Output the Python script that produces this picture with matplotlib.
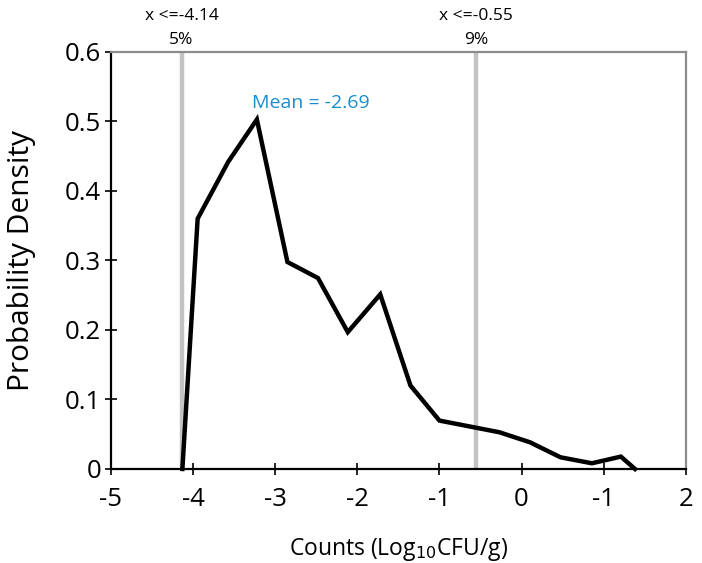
import matplotlib
matplotlib.use("Agg")
import matplotlib.pyplot as plt

plt.rcParams['font.family'] = ['Open Sans', 'DejaVu Sans']

x_vals = [-4.13, -3.944, -3.572, -3.223, -2.851, -2.479, -2.116, -1.721, -1.353, -1.0, -0.27, 0.102, 0.474, 0.856, 1.209, 1.381]
y_vals = [0.0, 0.360, 0.4417, 0.5026, 0.2977, 0.2746, 0.1968, 0.2511, 0.120, 0.0696, 0.0528, 0.0384, 0.0168, 0.0082, 0.0178, 0.0]

x_ticks = [-5, -4, -3, -2, -1, 0, 1, 2]
x_tick_labels = ["-5", "-4", "-3", "-2", "-1", "0", "-1", "2"]
y_ticks = [0, 0.1, 0.2, 0.3, 0.4, 0.5, 0.6]
y_tick_labels = ["0", "0.1", "0.2", "0.3", "0.4", "0.5", "0.6"]

cut_x = [-4.14, -0.55]
cut_top = ["x <=-4.14", "x <=-0.55"]
cut_pct = ["5%", "9%"]
mean_label = "Mean = -2.69"

fig = plt.figure(figsize=(7.02, 5.63), dpi=100)
ax = fig.add_axes([0.158, 0.167, 0.819, 0.741])

for cx, top, pct in zip(cut_x, cut_top, cut_pct):
    ax.axvline(cx, color='#c3c3c3', lw=3.2, zorder=1)
    ax.annotate(top, xy=(cx, 0.6), xycoords='data', xytext=(0, 36), textcoords='offset pixels',
                ha='center', va='center', fontsize=12.5, annotation_clip=False)
    ax.annotate(pct, xy=(cx, 0.6), xycoords='data', xytext=(0, 12), textcoords='offset pixels',
                ha='center', va='center', fontsize=12.5, annotation_clip=False)

ax.plot(x_vals, y_vals, color='black', lw=3.2, solid_joinstyle='miter', zorder=3, clip_on=False)
ax.text(-3.28, 0.527, mean_label, color='#1a8cd0', fontsize=14, va='center', ha='left')

ax.set_xlim(-5, 2)
ax.set_ylim(0, 0.6)
ax.set_xticks(x_ticks)
ax.set_xticklabels(x_tick_labels, fontsize=18.5)
ax.set_yticks(y_ticks)
ax.set_yticklabels(y_tick_labels, fontsize=18.5)
ax.tick_params(direction='inout', length=8, width=1.2)
ax.tick_params(axis='x', pad=9)
ax.tick_params(axis='y', pad=3)

for s in ['left', 'bottom']:
    ax.spines[s].set_color('black')
    ax.spines[s].set_linewidth(1.6)
for s in ['top', 'right']:
    ax.spines[s].set_color('#8c8c8c')
    ax.spines[s].set_linewidth(1.6)

ax.set_xlabel("Counts (Log$_{10}$CFU/g)", fontsize=16.5)
ax.set_ylabel("Probability Density", fontsize=21.5)
ax.xaxis.set_label_coords(0.5, -0.192)
ax.yaxis.set_label_coords(-0.155, 0.5)
ax.xaxis.label.set_va('center')
ax.yaxis.label.set_va('center')

fig.savefig("out.png", dpi=100)
